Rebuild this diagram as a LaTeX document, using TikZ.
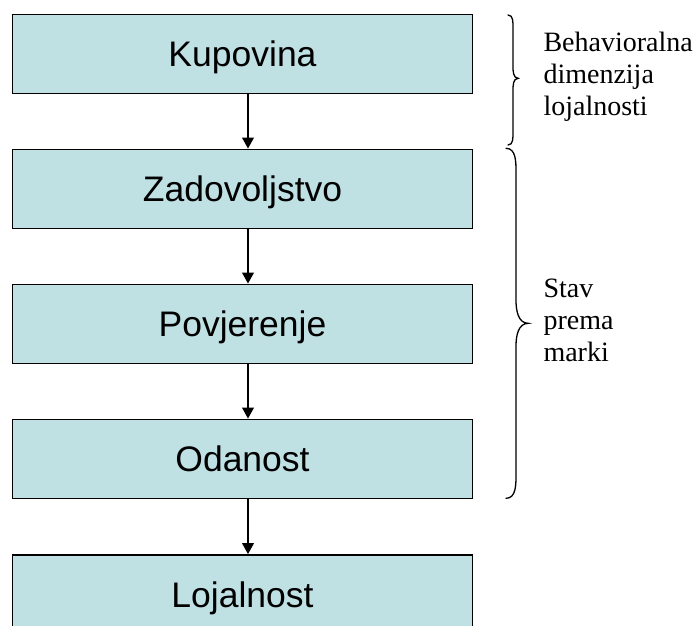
\documentclass[tikz,border=0pt]{standalone}
\usepackage{fontspec}
\setmainfont{Liberation Serif}
\newfontfamily\arialfont{Liberation Sans}
\usetikzlibrary{arrows.meta}
\definecolor{boxfill}{RGB}{191,225,228}
\begin{document}
\begin{tikzpicture}[x=1pt,y=-1pt,
  stage/.style={draw=black, line width=1.4pt, fill=boxfill, minimum width=460.4pt,
    minimum height=79pt, inner sep=0pt, text height=25.6pt, text depth=0pt,
    font=\arialfont\fontsize{35.5}{40}\selectfont},
  flow/.style={line width=1.7pt, -{Triangle[length=11pt,width=11.7pt]}},
  brace/.style={line width=1.3pt, line cap=round},
  side/.style={anchor=base west, align=left, inner sep=0pt,
    font=\fontsize{28}{32.2}\selectfont}]
\clip (0,0) rectangle (694,626);
\fill[white] (0,0) rectangle (694,626);
\node[stage] (b1) at (242.5,53.8) {Kupovina};
\node[stage] (b2) at (242.5,188.8) {Zadovoljstvo};
\node[stage] (b3) at (242.5,323.8) {Povjerenje};
\node[stage] (b4) at (242.5,458.8) {Odanost};
\node[stage] (b5) at (242.5,594.3) {Lojalnost};
\foreach \a/\b in {b1/b2,b2/b3,b3/b4,b4/b5}
  \draw[flow] ([xshift=5.5pt]\a.south) -- ([xshift=5.5pt]\b.north);
% braces
\draw[brace] (508,15) to[out=0,in=90] (513,28) -- (513,66) to[out=-90,in=180] (518.3,78.3)
  to[out=180,in=90] (513,91) -- (513,132) to[out=-90,in=0] (508,145);
\draw[brace] (506,148.3) to[out=0,in=90] (516,172) -- (516,300) to[out=-90,in=180] (528.3,323.3)
  to[out=180,in=90] (516,346) -- (516,474) to[out=-90,in=0] (506,498.3);
\node[side] (t1) at (543.3,115.7) {Behavioralna\\dimenzija\\lojalnosti};
\node[side] (t2) at (543.3,361.7) {Stav\\prema\\marki};
\end{tikzpicture}
\end{document}
